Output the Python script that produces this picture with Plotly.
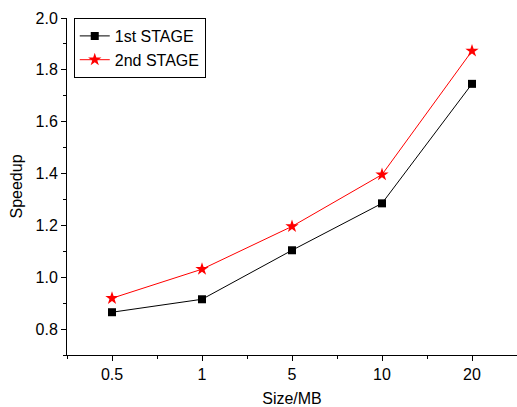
import plotly.graph_objects as go

categories = ["0.5", "1", "5", "10", "20"]
stage1 = [0.865, 0.915, 1.104, 1.285, 1.746]
stage2 = [0.919, 1.031, 1.196, 1.396, 1.873]
y_ticks = [0.8, 1.0, 1.2, 1.4, 1.6, 1.8, 2.0]

xs = list(range(len(categories)))
font = dict(family="Liberation Sans, Arial, sans-serif", size=16, color="black")

fig = go.Figure()
fig.add_trace(go.Scatter(x=xs, y=stage1, name="1st STAGE", mode="lines+markers",
                         line=dict(color="black", width=1),
                         marker=dict(symbol="square", size=8, color="black")))
fig.add_trace(go.Scatter(x=xs, y=stage2, name="2nd STAGE", mode="lines+markers",
                         line=dict(color="red", width=1),
                         marker=dict(symbol="star", size=10, color="red")))

fig.update_layout(
    width=517, height=407,
    margin=dict(l=67, r=0, t=18, b=52),
    paper_bgcolor="white", plot_bgcolor="white",
    font=font,
    showlegend=True,
    legend=dict(x=0.015, y=1.0, xanchor="left", yanchor="top",
                bordercolor="black", borderwidth=1, bgcolor="white",
                font=dict(size=16), tracegroupgap=0, itemwidth=30),
    xaxis=dict(range=[-0.5, 4.5], tickmode="array", tickvals=xs, ticktext=categories,
               showline=True, linecolor="black", linewidth=1, showgrid=False, zeroline=False,
               ticks="outside", ticklen=5, tickcolor="black", tickfont=dict(size=16),
               minor=dict(tickmode="linear", tick0=-0.5, dtick=0.5, ticks="outside", ticklen=3,
                          tickcolor="black", showgrid=False),
               title=dict(text="Size/MB", standoff=12, font=dict(size=16))),
    yaxis=dict(range=[0.7, 2.0], tickmode="array", tickvals=y_ticks,
               ticktext=[f"{v:.1f}" for v in y_ticks],
               showline=True, linecolor="black", linewidth=1, showgrid=False, zeroline=False,
               ticks="outside", ticklen=5, tickcolor="black", tickfont=dict(size=16),
               minor=dict(tickmode="linear", tick0=0.7, dtick=0.1, ticks="outside", ticklen=3,
                          tickcolor="black", showgrid=False),
               title=dict(text="Speedup", standoff=8, font=dict(size=16))),
)

fig.write_html("out.html")
